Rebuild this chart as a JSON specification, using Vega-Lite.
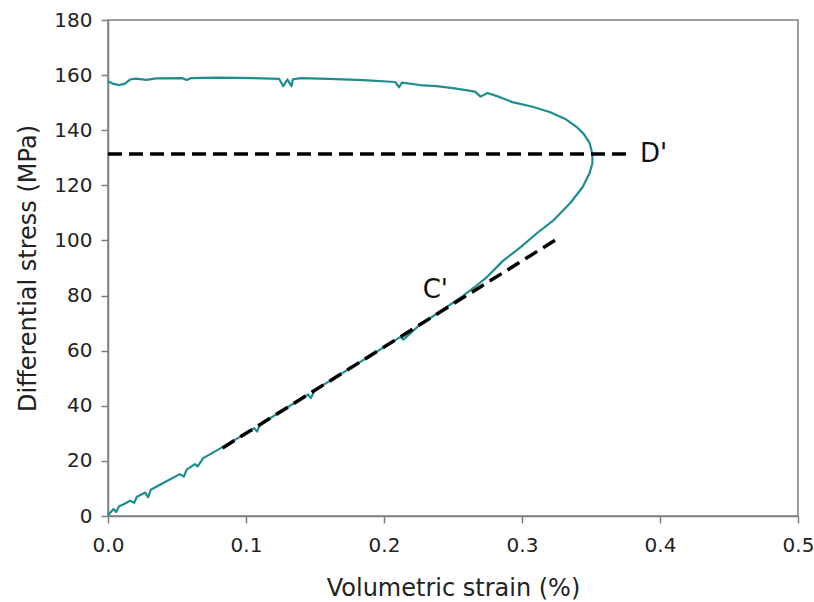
{
  "$schema": "https://vega.github.io/schema/vega-lite/v6.json",
  "width": 690,
  "height": 496,
  "autosize": "none",
  "padding": {"left": 108, "top": 20, "right": 16, "bottom": 86},
  "background": "white",
  "config": {
    "view": {"stroke": "#7f7f7f", "strokeWidth": 1.5},
    "font": "DejaVu Sans",
    "axis": {
      "grid": false,
      "domainColor": "#7f7f7f",
      "domainWidth": 1.5,
      "tickColor": "#7f7f7f",
      "tickWidth": 1.5,
      "tickSize": 7,
      "labelFont": "DejaVu Sans",
      "labelFontSize": 20,
      "labelColor": "#222222",
      "labelFlush": false,
      "titleFont": "DejaVu Sans",
      "titleFontSize": 24,
      "titleFontWeight": "normal",
      "titleColor": "#222222"
    }
  },
  "datasets": {
    "curve": [
      {"i": 1, "strain": 0.000, "stress": 0.3},
      {"i": 2, "strain": 0.004, "stress": 2.5},
      {"i": 3, "strain": 0.006, "stress": 1.5},
      {"i": 4, "strain": 0.008, "stress": 3.5},
      {"i": 5, "strain": 0.011, "stress": 4.2},
      {"i": 6, "strain": 0.016, "stress": 5.5},
      {"i": 7, "strain": 0.019, "stress": 4.8},
      {"i": 8, "strain": 0.021, "stress": 7.0},
      {"i": 9, "strain": 0.027, "stress": 8.5},
      {"i": 10, "strain": 0.029, "stress": 6.8},
      {"i": 11, "strain": 0.031, "stress": 9.5},
      {"i": 12, "strain": 0.040, "stress": 12.0},
      {"i": 13, "strain": 0.052, "stress": 15.2},
      {"i": 14, "strain": 0.055, "stress": 14.3},
      {"i": 15, "strain": 0.057, "stress": 16.8},
      {"i": 16, "strain": 0.063, "stress": 18.8},
      {"i": 17, "strain": 0.065, "stress": 18.0},
      {"i": 18, "strain": 0.069, "stress": 21.0},
      {"i": 19, "strain": 0.083, "stress": 25.0},
      {"i": 20, "strain": 0.100, "stress": 30.0},
      {"i": 21, "strain": 0.106, "stress": 31.9},
      {"i": 22, "strain": 0.108, "stress": 30.6},
      {"i": 23, "strain": 0.110, "stress": 33.1},
      {"i": 24, "strain": 0.130, "stress": 39.4},
      {"i": 25, "strain": 0.145, "stress": 44.1},
      {"i": 26, "strain": 0.147, "stress": 42.8},
      {"i": 27, "strain": 0.150, "stress": 45.7},
      {"i": 28, "strain": 0.168, "stress": 51.3},
      {"i": 29, "strain": 0.184, "stress": 56.3},
      {"i": 30, "strain": 0.200, "stress": 61.3},
      {"i": 31, "strain": 0.212, "stress": 65.0},
      {"i": 32, "strain": 0.214, "stress": 64.0},
      {"i": 33, "strain": 0.226, "stress": 69.4},
      {"i": 34, "strain": 0.241, "stress": 74.3},
      {"i": 35, "strain": 0.257, "stress": 79.8},
      {"i": 36, "strain": 0.266, "stress": 83.2},
      {"i": 37, "strain": 0.275, "stress": 86.9},
      {"i": 38, "strain": 0.286, "stress": 92.5},
      {"i": 39, "strain": 0.299, "stress": 97.6},
      {"i": 40, "strain": 0.311, "stress": 102.7},
      {"i": 41, "strain": 0.323, "stress": 107.4},
      {"i": 42, "strain": 0.335, "stress": 113.6},
      {"i": 43, "strain": 0.344, "stress": 119.4},
      {"i": 44, "strain": 0.349, "stress": 124.5},
      {"i": 45, "strain": 0.351, "stress": 128.0},
      {"i": 46, "strain": 0.351, "stress": 131.0},
      {"i": 47, "strain": 0.350, "stress": 133.5},
      {"i": 48, "strain": 0.349, "stress": 135.3},
      {"i": 49, "strain": 0.345, "stress": 138.5},
      {"i": 50, "strain": 0.340, "stress": 141.0},
      {"i": 51, "strain": 0.331, "stress": 144.2},
      {"i": 52, "strain": 0.320, "stress": 146.6},
      {"i": 53, "strain": 0.307, "stress": 148.6},
      {"i": 54, "strain": 0.293, "stress": 150.2},
      {"i": 55, "strain": 0.284, "stress": 152.0},
      {"i": 56, "strain": 0.275, "stress": 153.5},
      {"i": 57, "strain": 0.270, "stress": 152.2},
      {"i": 58, "strain": 0.266, "stress": 154.0},
      {"i": 59, "strain": 0.250, "stress": 155.3},
      {"i": 60, "strain": 0.238, "stress": 156.0},
      {"i": 61, "strain": 0.226, "stress": 156.4},
      {"i": 62, "strain": 0.213, "stress": 157.3},
      {"i": 63, "strain": 0.211, "stress": 155.6},
      {"i": 64, "strain": 0.208, "stress": 157.5},
      {"i": 65, "strain": 0.185, "stress": 158.2},
      {"i": 66, "strain": 0.160, "stress": 158.6},
      {"i": 67, "strain": 0.140, "stress": 158.9},
      {"i": 68, "strain": 0.134, "stress": 158.5},
      {"i": 69, "strain": 0.133, "stress": 156.0},
      {"i": 70, "strain": 0.130, "stress": 158.4},
      {"i": 71, "strain": 0.127, "stress": 156.0},
      {"i": 72, "strain": 0.124, "stress": 158.6},
      {"i": 73, "strain": 0.105, "stress": 158.9},
      {"i": 74, "strain": 0.080, "stress": 159.1},
      {"i": 75, "strain": 0.060, "stress": 158.9},
      {"i": 76, "strain": 0.057, "stress": 158.2},
      {"i": 77, "strain": 0.054, "stress": 158.9},
      {"i": 78, "strain": 0.035, "stress": 158.8},
      {"i": 79, "strain": 0.028, "stress": 158.3},
      {"i": 80, "strain": 0.020, "stress": 158.7},
      {"i": 81, "strain": 0.016, "stress": 158.4},
      {"i": 82, "strain": 0.012, "stress": 156.8},
      {"i": 83, "strain": 0.008, "stress": 156.4},
      {"i": 84, "strain": 0.004, "stress": 156.8},
      {"i": 85, "strain": 0.000, "stress": 157.8}
    ],
    "dLine": [
      {"strain": 0.0, "stress": 131.4},
      {"strain": 0.378, "stress": 131.4}
    ],
    "cLine": [
      {"strain": 0.083, "stress": 24.7},
      {"strain": 0.324, "stress": 100.1}
    ],
    "labels": [
      {"strain": 0.3855, "stress": 131.4, "label": "D'"},
      {"strain": 0.228, "stress": 82.0, "label": "C'"}
    ]
  },
  "layer": [
    {
      "data": {"name": "curve"},
      "mark": {"type": "line", "color": "#1e8d8e", "strokeWidth": 2.2, "strokeJoin": "round"},
      "encoding": {
        "x": {
          "field": "strain", "type": "quantitative",
          "scale": {"domain": [0, 0.5], "nice": false},
          "axis": {"values": [0, 0.1, 0.2, 0.3, 0.4, 0.5], "format": ".1f", "labelPadding": 12, "title": "Volumetric strain (%)", "titlePadding": 21}
        },
        "y": {
          "field": "stress", "type": "quantitative",
          "scale": {"domain": [0, 180], "nice": false},
          "axis": {"values": [0, 20, 40, 60, 80, 100, 120, 140, 160, 180], "labelPadding": 9, "title": "Differential stress (MPa)", "titlePadding": 13}
        },
        "order": {"field": "i", "type": "quantitative"}
      }
    },
    {
      "data": {"name": "dLine"},
      "mark": {"type": "line", "color": "black", "strokeWidth": 3.5, "strokeDash": [14, 7]},
      "encoding": {
        "x": {"field": "strain", "type": "quantitative"},
        "y": {"field": "stress", "type": "quantitative"}
      }
    },
    {
      "data": {"name": "cLine"},
      "mark": {"type": "line", "color": "black", "strokeWidth": 3.5, "strokeDash": [14, 7]},
      "encoding": {
        "x": {"field": "strain", "type": "quantitative"},
        "y": {"field": "stress", "type": "quantitative"}
      }
    },
    {
      "data": {"name": "labels"},
      "mark": {"type": "text", "align": "left", "baseline": "middle", "fontSize": 26, "font": "DejaVu Sans", "color": "#111111"},
      "encoding": {
        "x": {"field": "strain", "type": "quantitative"},
        "y": {"field": "stress", "type": "quantitative"},
        "text": {"field": "label"}
      }
    }
  ]
}
